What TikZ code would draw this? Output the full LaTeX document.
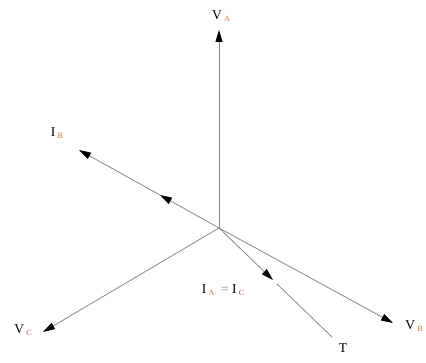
\documentclass[tikz,border=0pt]{standalone}
\usepackage{fontspec}
\setmainfont{Liberation Serif}
\usetikzlibrary{arrows.meta}
\definecolor{phgray}{RGB}{135,135,135}
\definecolor{subA}{RGB}{205,125,45}
\definecolor{subB}{RGB}{195,115,35}
\definecolor{subC}{RGB}{175,75,105}
\newcommand{\phsub}[2]{\,{\fontsize{8}{9}\selectfont\color{#1}\raisebox{-2pt}{#2}}}

\begin{document}
\begin{tikzpicture}[x=1pt,y=-1pt,>={Triangle[length=12pt,width=7pt,black]},
  phase/.style={phgray,line width=0.8pt},
  lbl/.style={font=\fontsize{13.5}{15}\selectfont,inner sep=0pt}]
  \useasboundingbox (0,0) rectangle (426,363);
  \coordinate (O) at (219,228);
  \coordinate (VA) at (219,30);
  \coordinate (IBm) at (160,195);
  \coordinate (IB) at (79,150);
  \coordinate (VC) at (43,332);
  \coordinate (VB) at (393,323);
  \coordinate (Tm) at (273,280);
  \coordinate (Tg) at (277,284);
  \coordinate (T) at (332,337);
  % phasors
  \draw[phase,->] (O)--(VA);
  \draw[phase,->] (O)--(IBm);
  \draw[phase,->] (IBm)--(IB);
  \draw[phase,->] (O)--(VC);
  \draw[phase,->] (O)--(VB);
  \draw[phase,->] (O)--(Tm);
  \draw[phase] (Tg)--(T);
  % labels
  \node[lbl] (lVA) at (221,16) {V\phsub{subA}{A}};
  \node[lbl] (lIB) at (57,133) {I\phsub{subB}{B}};
  \node[lbl] (lVC) at (23,330) {V\phsub{subC}{C}};
  \node[lbl] (lVB) at (414,326) {V\phsub{subB}{B}};
  \node[lbl] (lT) at (343,348) {T};
  \node[lbl] (lIAC) at (223,290) {I\phsub{subA}{A}\ \ {\color{phgray}=}\ I\phsub{subC}{C}};
\end{tikzpicture}
\end{document}
